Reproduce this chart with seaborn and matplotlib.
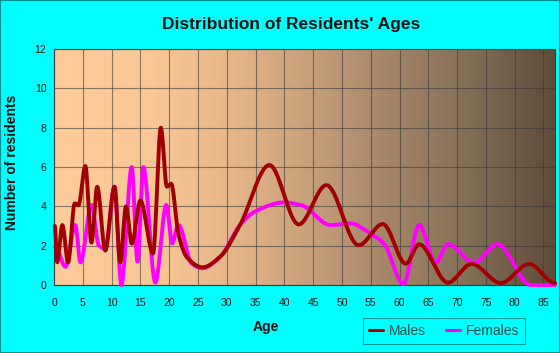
import numpy as np
import pandas as pd
import matplotlib
matplotlib.use("Agg")
import matplotlib.pyplot as plt
from matplotlib.colors import LinearSegmentedColormap
from matplotlib.lines import Line2D
from matplotlib.patches import Rectangle
import seaborn as sns

## Data (age, number of residents) at the turning points of each curve
male_age = [0.15, 0.55, 1.45, 2.45, 3.6, 4.25, 5.45, 6.5, 7.5, 8.9, 10.5, 11.5, 12.5, 13.5,
            15.0, 17.2, 18.55, 19.6, 20.35, 21.6, 23.1, 25.8, 28.9, 32.3, 37.4, 42.5, 47.3,
            52.9, 57.1, 61.1, 63.4, 68.4, 72.5, 77.6, 82.5, 87.0]
male_count = [3.0, 1.15, 3.05, 1.15, 4.15, 4.05, 6.05, 2.15, 5.0, 1.75, 5.0, 1.15, 4.0, 2.1,
              4.3, 1.6, 8.0, 5.0, 5.15, 2.6, 1.4, 0.9, 1.45, 3.05, 6.1, 3.08, 5.08,
              2.02, 3.1, 1.08, 2.07, 0.12, 1.07, 0.1, 1.07, 0.1]

female_age = [0.2, 2.0, 3.7, 4.6, 6.5, 7.8, 8.9, 10.5, 11.7, 13.5, 14.5, 15.5, 17.6, 19.5,
              20.5, 21.6, 23.9, 25.7, 28.9, 32.3, 34.7, 40.0, 43.0, 48.0, 51.5, 55.0, 57.3,
              60.7, 63.4, 66.3, 68.4, 72.9, 77.0, 82.8, 87.0]
female_count = [1.95, 0.93, 3.05, 1.15, 4.07, 2.0, 1.85, 5.0, 0.0, 6.0, 1.18, 6.0, 0.12, 4.07,
                2.12, 3.05, 1.1, 0.85, 1.45, 3.05, 3.7, 4.2, 4.05, 3.05, 3.13, 2.6, 2.1,
                0.05, 3.05, 1.13, 2.08, 1.13, 2.08, 0.0, 0.0]

x_ticks = list(range(0, 90, 5))
y_ticks = list(range(0, 14, 2))


# smooth line through the points (the original chart draws smoothed lines)
def smooth(x, y, n=1200):
    x = np.asarray(x, float)
    y = np.asarray(y, float)
    h = np.diff(x)
    d = np.diff(y) / h
    m = np.zeros_like(y)
    for k in range(1, len(x) - 1):
        if d[k - 1] * d[k] > 0:
            w1 = 2 * h[k] + h[k - 1]
            w2 = h[k] + 2 * h[k - 1]
            m[k] = (w1 + w2) / (w1 / d[k - 1] + w2 / d[k])
    xs = np.linspace(x[0], x[-1], n)
    i = np.clip(np.searchsorted(x, xs) - 1, 0, len(x) - 2)
    t = (xs - x[i]) / h[i]
    ys = ((2 * t**3 - 3 * t**2 + 1) * y[i] + (t**3 - 2 * t**2 + t) * h[i] * m[i]
          + (-2 * t**3 + 3 * t**2) * y[i + 1] + (t**3 - t**2) * h[i] * m[i + 1])
    return xs, ys


mx, my = smooth(male_age, male_count)
fx, fy = smooth(female_age, female_count)
df = pd.concat([
    pd.DataFrame({"Age": fx, "Residents": fy, "Sex": "Females"}),
    pd.DataFrame({"Age": mx, "Residents": my, "Sex": "Males"}),
])

sns.set_style("white")
plt.rcParams["font.family"] = ["Liberation Sans", "DejaVu Sans"]

cyan = "#00FFFF"
male_color = "#A00000"
female_color = "#FF00FF"

fig = plt.figure(figsize=(5.6, 3.53), dpi=100)
fig.patch.set_facecolor(cyan)
ax = fig.add_axes([54 / 560, 1 - 285 / 353, 501 / 560, 236 / 353])

# peach -> brown background
bg = LinearSegmentedColormap.from_list("bg", [
    (0.0, "#FDCC9A"), (0.2, "#F8C795"), (0.35, "#E6B68A"), (0.5, "#C9A27D"),
    (0.65, "#A98869"), (0.82, "#857058"), (1.0, "#5F4B39")])
ax.imshow(np.linspace(0, 1, 256).reshape(1, -1), cmap=bg, extent=[0, 87, 0, 12],
          aspect="auto", zorder=0)

sns.lineplot(data=df, x="Age", y="Residents", hue="Sex", hue_order=["Females", "Males"],
             palette={"Males": male_color, "Females": female_color}, linewidth=2.8,
             sort=False, estimator=None, legend=False, ax=ax)
for ln in ax.lines:
    ln.set_clip_on(False)
    ln.set_zorder(3)

ax.set_xlim(0, 87)
ax.set_ylim(0, 12)
ax.set_xticks(x_ticks)
ax.set_xticks(range(0, 88), minor=True)
ax.set_yticks(y_ticks)
ax.grid(True, which="major", color="#3a3a3a", alpha=0.6, linewidth=0.8)
ax.set_axisbelow(True)
for s in ax.spines.values():
    s.set_color("#3a3a3a")
    s.set_linewidth(0.8)
ax.tick_params(axis="both", which="both", direction="out", color="#2F4F4F",
               labelsize=7.5, labelcolor="#111111")
ax.tick_params(axis="x", which="both", length=3, pad=6.5)
ax.tick_params(axis="y", length=4, pad=1.5)
ax.set_xlabel("")
ax.set_ylabel("")

fig.text(291 / 560, 1 - 25 / 353, "Distribution of Residents' Ages", ha="center", va="center",
         fontsize=12.5, fontweight="bold", color="#111111")
fig.text(266 / 560, 1 - 327 / 353, "Age", ha="center", va="center",
         fontsize=10, fontweight="bold", color="#111111")
fig.text(12 / 560, 1 - 162 / 353, "Number of residents", ha="center", va="center",
         rotation=90, fontsize=10, fontweight="bold", color="#111111")

handles = [Line2D([], [], color=male_color, lw=2.2), Line2D([], [], color=female_color, lw=2.2)]
leg = fig.legend(handles, ["Males", "Females"], loc="center", bbox_to_anchor=(444 / 560, 1 - 331 / 353),
                 ncol=2, frameon=True, fancybox=False, fontsize=10, handlelength=1.0,
                 handletextpad=0.4, columnspacing=1.5, borderpad=0.45)
leg.get_frame().set_facecolor(cyan)
leg.get_frame().set_edgecolor("#008080")
leg.get_frame().set_linewidth(0.8)
for t in leg.get_texts():
    t.set_color("#1F4F4F")

fig.add_artist(Rectangle((0, 0), 1, 1, transform=fig.transFigure, fill=False,
                         edgecolor="#009090", linewidth=1.5))

plt.savefig("out.png", dpi=100, facecolor=fig.get_facecolor())
